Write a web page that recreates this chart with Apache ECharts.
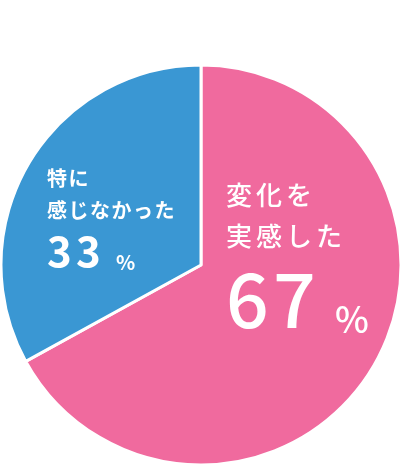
<!DOCTYPE html>
<html><head><meta charset="utf-8">
<script src="https://cdn.jsdelivr.net/npm/echarts@6/dist/echarts.min.js"></script>
<style>html,body{margin:0;padding:0;background:#fff}#c{width:401px;height:465px}</style>
</head><body><div id="c"></div>
<script>
const categories = ['変化を実感した', '特に感じなかった'];
const values = [67, 33];
const labelLines = [['変化を', '実感した'], ['特に', '感じなかった']];
const colors = ['#F06A9E', '#3A97D3'];

function chars(s, tag) { return s.split('').map(c => '{' + tag + '|' + c + '}').join(''); }

const chart = echarts.init(document.getElementById('c'), null, {renderer: 'canvas'});
const F = '"Noto Sans CJK JP", "Noto Sans", sans-serif';
chart.setOption({
  animation: false,
  series: [{
    type: 'pie',
    center: [201, 265],
    radius: [0, 200],
    startAngle: 90,
    clockwise: true,
    itemStyle: {borderColor: '#fff', borderWidth: 3},
    labelLine: {show: false},
    labelLayout: function (params) {
      if (params.dataIndex === 0) return {x: 226, y: 175, align: 'left', verticalAlign: 'top'};
      return {x: 47, y: 162, align: 'left', verticalAlign: 'top'};
    },
    data: categories.map((n, i) => ({
      name: n, value: values[i],
      itemStyle: {color: colors[i]},
      label: i === 0 ? {
        show: true, position: 'inside', align: 'left',
        formatter: p => labelLines[0].map(l => chars(l, 'a')).join('\n') + '\n' + chars(String(p.value), 'n') + '{p|%}',
        rich: {
          a: {fontFamily: F, fontSize: 26, fontWeight: 500, color: '#fff', width: 30, lineHeight: 41, align: 'left'},
          n: {fontFamily: F, fontSize: 75, fontWeight: 500, color: '#fff', width: 47, lineHeight: 80, verticalAlign: 'bottom'},
          p: {fontFamily: F, fontSize: 36, fontWeight: 500, color: '#fff', padding: [0, 0, 0, 15], lineHeight: 80, verticalAlign: 'bottom'}
        }
      } : {
        show: true, position: 'inside', align: 'left',
        formatter: p => labelLines[1].map(l => chars(l, 'a')).join('\n') + '\n' + chars(String(p.value), 'n') + '{p|%}',
        rich: {
          a: {fontFamily: F, fontSize: 20, fontWeight: 'bold', color: '#fff', width: 21.5, lineHeight: 32, align: 'left'},
          n: {fontFamily: F, fontSize: 42, fontWeight: 'bold', color: '#fff', width: 29, lineHeight: 46, verticalAlign: 'bottom'},
          p: {fontFamily: F, fontSize: 20, fontWeight: 'bold', color: '#fff', padding: [0, 0, 0, 11], lineHeight: 46, verticalAlign: 'bottom'}
        }
      }
    }))
  }]
});
</script></body></html>
